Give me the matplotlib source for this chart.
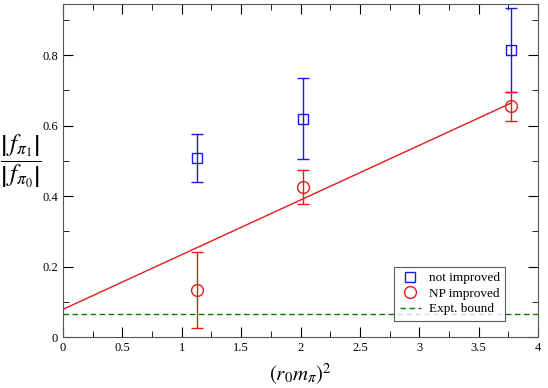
import matplotlib
matplotlib.use("Agg")
import matplotlib.pyplot as plt
from matplotlib.ticker import MultipleLocator
from matplotlib.lines import Line2D
import numpy as np

plt.rcParams["font.family"] = ["Liberation Serif", "DejaVu Serif"]
plt.rcParams["mathtext.fontset"] = "stix"

# data
x_not = [1.125, 2.024, 3.77]
y_not = [0.509, 0.620, 0.814]
lo_not = [0.441, 0.506, 0.696]
hi_not = [0.576, 0.735, 0.932]

x_np = [1.125, 2.024, 3.77]
y_np = [0.135, 0.426, 0.655]
lo_np = [0.026, 0.379, 0.614]
hi_np = [0.242, 0.474, 0.696]

fit_intercept = 0.079
fit_slope = 0.155
fit_range = [0.0, 3.77]
expt_bound = 0.065

blue = "#1a1ae6"
red = "#e61a1a"
green = "#008000"

fig = plt.figure(figsize=(5.48, 3.88), dpi=100)
ax = fig.add_axes([0.115, 0.131, 0.867, 0.859])

err_not = [np.array(y_not) - np.array(lo_not), np.array(hi_not) - np.array(y_not)]
err_np = [np.array(y_np) - np.array(lo_np), np.array(hi_np) - np.array(y_np)]

ax.errorbar(x_not, y_not, yerr=err_not, fmt="s", color=blue, mfc="none",
            ms=7, mew=1, elinewidth=1, capsize=4, capthick=1)
ax.errorbar(x_np, y_np, yerr=err_np, fmt="o", color=red, mfc="none",
            ms=8.5, mew=1, elinewidth=1, capsize=4, capthick=1)

xf = np.array(fit_range)
ax.plot(xf, fit_intercept + fit_slope * xf, color=red, lw=1)
ax.axhline(expt_bound, color=green, ls="--", lw=1, dashes=(4, 2.5))

ax.set_xlim(0, 4)
ax.set_ylim(0, 0.945)
ax.xaxis.set_minor_locator(MultipleLocator(0.25))
ax.yaxis.set_minor_locator(MultipleLocator(0.1))
ax.set_xticks([0, 0.5, 1, 1.5, 2, 2.5, 3, 3.5, 4])
ax.set_xticklabels(["0", "0.5", "1", "1.5", "2", "2.5", "3", "3.5", "4"])
ax.set_yticks([0, 0.2, 0.4, 0.6, 0.8])
ax.set_yticklabels(["0", "0.2", "0.4", "0.6", "0.8"])
ax.tick_params(which="both", direction="in", top=True, right=True, labelsize=9)
ax.tick_params(which="major", length=7)
ax.tick_params(which="minor", length=4)
for s in ax.spines.values():
    s.set_color("#555555")

ax.set_xlabel(r"$(r_0 m_\pi)^2$", fontsize=15, labelpad=6)
fig.text(0.038, 0.585, r"$\dfrac{\left|\,f_{\pi_1}\right|}{\left|\,f_{\pi_0}\right|}$",
         fontsize=18, ha="center", va="center")

handles = [
    Line2D([], [], ls="none", marker="s", mfc="none", mec=blue, ms=7),
    Line2D([], [], ls="none", marker="o", mfc="none", mec=red, ms=8.5),
    Line2D([], [], color=green, ls="--", lw=1, dashes=(4, 2.5)),
]
labels = ["not improved", "NP improved", "Expt. bound"]
leg = ax.legend(handles, labels, loc="lower right", bbox_to_anchor=(0.93, 0.05),
                fontsize=9.5, frameon=True, fancybox=False, edgecolor="#333333",
                handlelength=1.6, handletextpad=0.6, borderpad=0.4,
                labelspacing=0.25, borderaxespad=0)
leg.get_frame().set_linewidth(0.8)

fig.savefig("out.png", dpi=100)
